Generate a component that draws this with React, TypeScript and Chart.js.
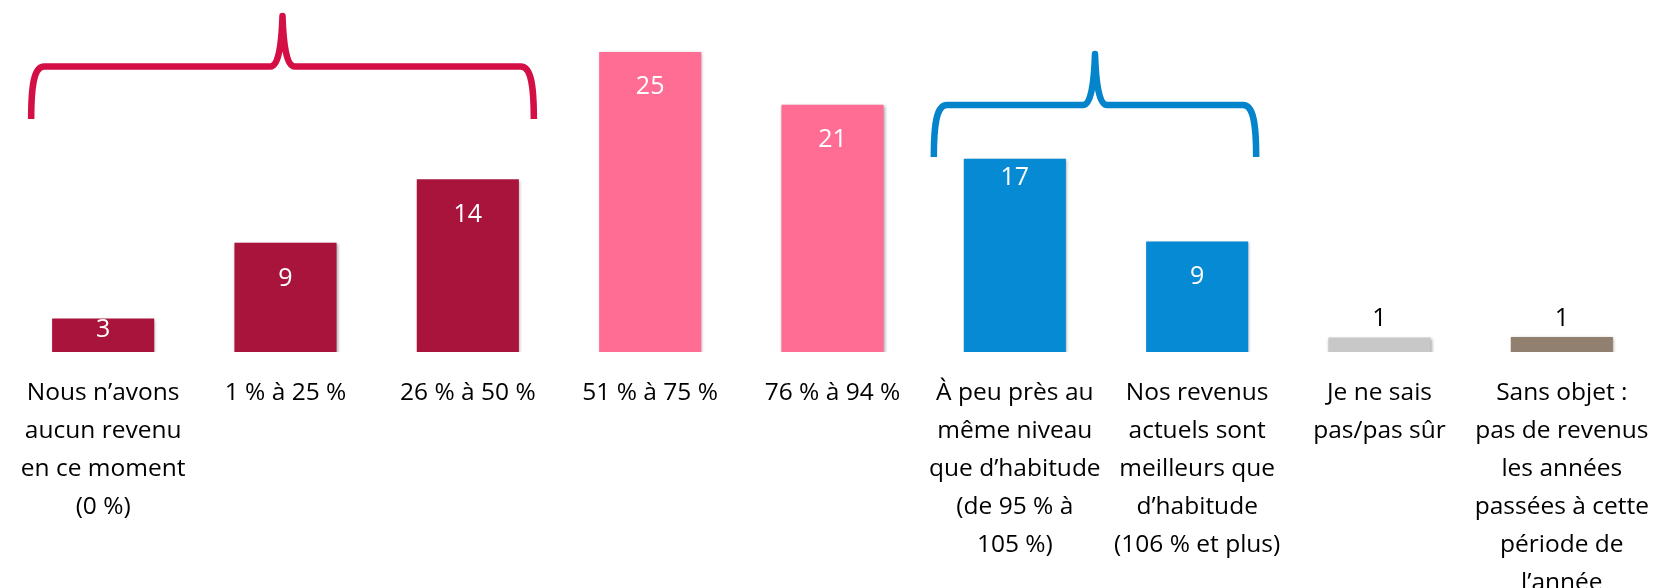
import React, { useEffect, useRef } from "react";
import { Chart, registerables } from "chart.js";

Chart.register(...registerables);

const categories: string[][] = [
  ["Nous n’avons", "aucun revenu", "en ce moment", "(0 %)"],
  ["1 % à 25 %"],
  ["26 % à 50 %"],
  ["51 % à 75 %"],
  ["76 % à 94 %"],
  ["À peu près au", "même niveau", "que d’habitude", "(de 95 % à", "105 %)"],
  ["Nos revenus", "actuels sont", "meilleurs que", "d’habitude", "(106 % et plus)"],
  ["Je ne sais", "pas/pas sûr"],
  ["Sans objet :", "pas de revenus", "les années", "passées à cette", "période de", "l’année"],
];

const values: number[] = [2.8, 9.1, 14.4, 25.0, 20.6, 16.1, 9.2, 1.2, 1.25];
const valueLabels: string[] = ["3", "9", "14", "25", "21", "17", "9", "1", "1"];

const barColors: string[] = [
  "#A8143C", "#A8143C", "#A8143C",
  "#FF6D94", "#FF6D94",
  "#068AD4", "#068AD4",
  "#C8C8C8", "#918070",
];
const labelColors: string[] = ["#FFFFFF", "#FFFFFF", "#FFFFFF", "#FFFFFF", "#FFFFFF", "#FFFFFF", "#FFFFFF", "#000000", "#000000"];
// vertical offset of each value label from the bar top (style only)
const labelInset: number[] = [11, 36, 36, 35, 35, 19, 35, -19, -18];

const FONT = "'Open Sans', 'Noto Sans', sans-serif";

function drawBrace(
  ctx: CanvasRenderingContext2D,
  x0: number, x1: number, yb: number, yh: number, yp: number, color: string
) {
  const xc = (x0 + x1) / 2;
  ctx.save();
  ctx.strokeStyle = color;
  ctx.lineWidth = 6.5;
  ctx.lineCap = "butt";
  ctx.lineJoin = "round";
  ctx.beginPath();
  ctx.moveTo(x0, yb);
  ctx.bezierCurveTo(x0, yh + 18, x0 + 3, yh, x0 + 13, yh);
  ctx.lineTo(xc - 12, yh);
  ctx.bezierCurveTo(xc - 4, yh, xc - 1, yh - 22, xc, yp);
  ctx.bezierCurveTo(xc + 1, yh - 22, xc + 4, yh, xc + 12, yh);
  ctx.lineTo(x1 - 13, yh);
  ctx.bezierCurveTo(x1 - 3, yh, x1, yh + 18, x1, yb);
  ctx.stroke();
  ctx.restore();
}

const overlayPlugin = {
  id: "overlay",
  beforeDatasetsDraw(chart: any) {
    const ctx = chart.ctx;
    ctx.save();
    ctx.shadowColor = "rgba(0,0,0,0.35)";
    ctx.shadowBlur = 3;
    ctx.shadowOffsetX = 1;
    ctx.shadowOffsetY = 1.5;
  },
  afterDatasetsDraw(chart: any) {
    const ctx = chart.ctx;
    ctx.restore();
    const meta = chart.getDatasetMeta(0);
    ctx.save();
    ctx.font = `400 25px ${FONT}`;
    ctx.textAlign = "center";
    ctx.textBaseline = "middle";
    meta.data.forEach((bar: any, i: number) => {
      ctx.fillStyle = labelColors[i];
      ctx.fillText(valueLabels[i], bar.x, bar.y + labelInset[i]);
    });
    ctx.restore();

    const xs = chart.scales.x;
    drawBrace(ctx, xs.getPixelForValue(0) - 72, xs.getPixelForValue(2) + 66, 119, 66.5, 16, "#D30F45");
    drawBrace(ctx, xs.getPixelForValue(5) - 81, xs.getPixelForValue(6) + 59, 157, 105, 54, "#0484CA");
  },
};

export default function App() {
  const ref = useRef<HTMLCanvasElement | null>(null);
  useEffect(() => {
    if (!ref.current) return;
    const chart = new Chart(ref.current, {
      type: "bar",
      data: {
        labels: categories,
        datasets: [
          {
            data: values,
            backgroundColor: barColors,
            borderWidth: 0,
            barPercentage: 0.56,
            categoryPercentage: 1,
          },
        ],
      },
      options: {
        responsive: false,
        animation: false,
        devicePixelRatio: 1,
        layout: { padding: { left: 12, right: 0, top: 0, bottom: 0 } },
        plugins: { legend: { display: false }, tooltip: { enabled: false }, title: { display: false } },
        scales: {
          x: {
            grid: { display: false, drawTicks: false },
            border: { display: false },
            ticks: {
              color: "#000000",
              font: { family: FONT, size: 24.5, lineHeight: 1.55 },
              padding: 22,
              autoSkip: false,
              maxRotation: 0,
              minRotation: 0,
            },
            afterFit: (s: any) => {
              s.height = 236;
              s.paddingLeft = 0;
              s.paddingRight = 0;
            },
          },
          y: {
            display: false,
            min: 0,
            max: 29.33,
          },
        },
      },
      plugins: [overlayPlugin],
    });
    return () => chart.destroy();
  }, []);
  return (
    <div style={{ position: "fixed", left: 0, top: 0, width: 1653, height: 588, background: "#fff" }}>
      <canvas ref={ref} width={1653} height={588} style={{ display: "block" }} />
    </div>
  );
}
